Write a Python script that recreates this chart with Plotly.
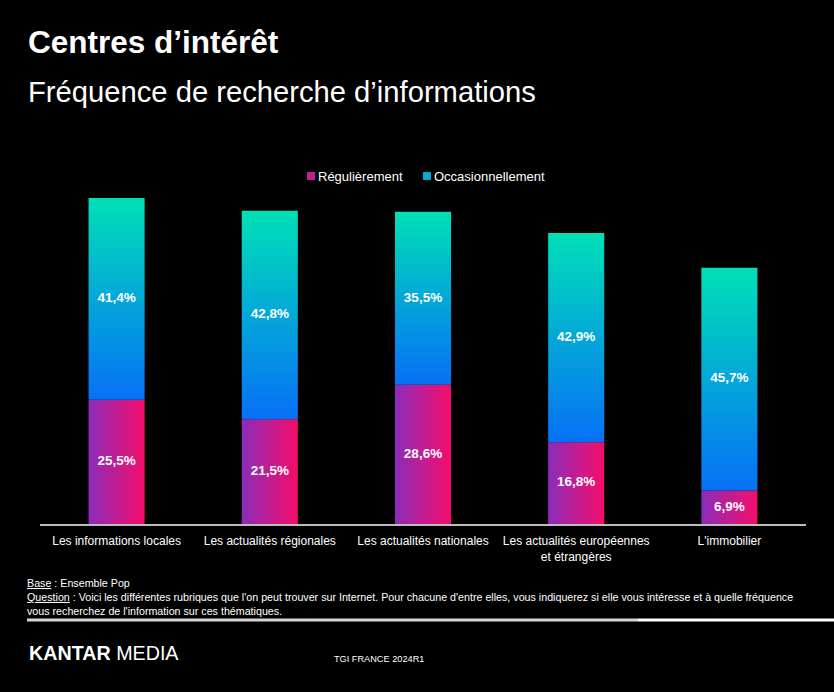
import plotly.graph_objects as go

categories = [
    "Les informations locales",
    "Les actualités régionales",
    "Les actualités nationales",
    "Les actualités européennes<br>et étrangères",
    "L'immobilier",
]
regulierement = [25.5, 21.5, 28.6, 16.8, 6.9]
occasionnellement = [41.4, 42.8, 35.5, 42.9, 45.7]
series_names = ["Régulièrement", "Occasionnellement"]

W, H = 834, 692
L, R, T, B = 40, 806, 190, 524


def px(x):
    return (x - L) / (R - L)


def py(y):
    return (B - y) / (B - T)


def fmt(v):
    return f"{v:.1f}".replace(".", ",") + "%"


BAR_W = 0.366
REG_SCALE = [[0, "#8a2cb9"], [0.5, "#c21d93"], [1, "#f40d69"]]
OCC_SCALE = [[0, "#0770f6"], [0.5, "#03a8d8"], [1, "#00e0b6"]]
FONT = "Liberation Sans, Arial, sans-serif"

fig = go.Figure()

for i, (r, o) in enumerate(zip(regulierement, occasionnellement)):
    x0, x1 = i - BAR_W / 2, i + BAR_W / 2
    fig.add_trace(go.Scatter(
        x=[x0, x1, x1, x0, x0], y=[0, 0, r, r, 0],
        mode="none", fill="toself", name=series_names[0],
        fillgradient=dict(type="horizontal", colorscale=REG_SCALE),
        showlegend=False, hoverinfo="skip",
    ))
    fig.add_trace(go.Scatter(
        x=[x0, x1, x1, x0, x0], y=[r, r, r + o, r + o, r],
        mode="none", fill="toself", name=series_names[1],
        fillgradient=dict(type="vertical", colorscale=OCC_SCALE),
        showlegend=False, hoverinfo="skip",
    ))

# value labels
xs = list(range(len(categories)))
label_font = dict(family=FONT, size=13.5, color="white", weight="bold")
fig.add_trace(go.Scatter(
    x=xs, y=[r / 2 for r in regulierement], mode="text",
    text=[fmt(v) for v in regulierement], textfont=label_font,
    showlegend=False, hoverinfo="skip",
))
fig.add_trace(go.Scatter(
    x=xs, y=[r + o / 2 for r, o in zip(regulierement, occasionnellement)], mode="text",
    text=[fmt(v) for v in occasionnellement], textfont=label_font,
    showlegend=False, hoverinfo="skip",
))

ymax = (B - T) / 4.873


def square(x, y, color):
    return dict(type="rect", xref="paper", yref="paper", x0=px(x), x1=px(x + 8),
                y0=py(y - 4), y1=py(y + 4), fillcolor=color, line=dict(width=0))


fig.update_layout(
    width=W, height=H,
    paper_bgcolor="black", plot_bgcolor="black",
    margin=dict(l=L, r=W - R, t=T, b=H - B, pad=0),
    font=dict(family=FONT, color="white"),
    showlegend=False,
    xaxis=dict(range=[-0.5, 4.5], tickvals=xs, ticktext=categories, showgrid=False,
               zeroline=False, showline=True, linecolor="#bdbdbd", linewidth=1.5,
               tickfont=dict(size=12, color="white"), ticks="", ticklabelstandoff=5,
               fixedrange=True),
    yaxis=dict(range=[0, ymax], visible=False, showgrid=False, zeroline=False, fixedrange=True),
    shapes=[
        dict(type="line", xref="paper", yref="paper", x0=px(27), x1=px(638), y0=py(620), y1=py(620),
             line=dict(color="#d6d6d6", width=3)),
        dict(type="line", xref="paper", yref="paper", x0=px(638), x1=px(834), y0=py(620), y1=py(620),
             line=dict(color="#ffffff", width=3)),
        square(307, 176, "#c21d93"),
        square(423, 176, "#03a8d8"),
    ],
    annotations=[
        dict(text="<b>Centres d’intérêt</b>", x=px(26), y=py(42), xref="paper", yref="paper",
             xanchor="left", yanchor="middle", showarrow=False, font=dict(size=31.5, color="white")),
        dict(text="Fréquence de recherche d’informations", x=px(26), y=py(92), xref="paper", yref="paper",
             xanchor="left", yanchor="middle", showarrow=False, font=dict(size=29.2, color="white")),
        dict(text=series_names[0], x=px(316), y=py(176), xref="paper", yref="paper",
             xanchor="left", yanchor="middle", showarrow=False, font=dict(size=13, color="white")),
        dict(text=series_names[1], x=px(432), y=py(176), xref="paper", yref="paper",
             xanchor="left", yanchor="middle", showarrow=False, font=dict(size=13, color="white")),
        dict(text="<u>Base</u> : Ensemble Pop<br><u>Question</u> : Voici les différentes rubriques que l'on peut trouver sur Internet. Pour chacune d'entre elles, vous indiquerez si elle vous intéresse et à quelle fréquence<br>vous recherchez de l'information sur ces thématiques.",
             x=px(25), y=py(575), xref="paper", yref="paper", xanchor="left", yanchor="top",
             align="left", showarrow=False, font=dict(size=10.7, color="white")),
        dict(text="<b>KANTAR</b> MEDIA", x=px(27), y=py(653), xref="paper", yref="paper",
             xanchor="left", yanchor="middle", showarrow=False, font=dict(size=19.7, color="white")),
        dict(text="TGI FRANCE 2024R1", x=px(332), y=py(659), xref="paper", yref="paper",
             xanchor="left", yanchor="middle", showarrow=False, font=dict(size=9.2, color="white")),
    ],
)

fig.write_html("out.html", config={"displayModeBar": False},
               post_script="document.body.style.margin='0';document.body.style.background='black';")
